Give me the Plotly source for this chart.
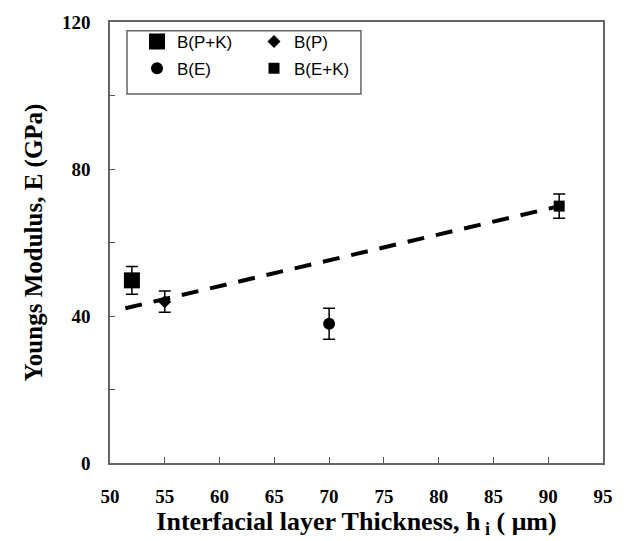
import plotly.graph_objects as go

# Data
series_names = ["B(P+K)", "B(P)", "B(E)", "B(E+K)"]
thickness = [52, 55, 70, 91]
modulus = [49.7, 43.9, 37.9, 69.9]
modulus_err = [3.8, 2.9, 4.2, 3.3]
symbols = ["square", "diamond", "circle", "square"]
sizes = [16, 10, 12, 11]
legend_ids = ["legend", "legend", "legend2", "legend2"]

trend_x = [51.4, 91.0]
trend_y = [42.1, 69.9]

x_ticks = list(range(50, 96, 5))
x_ticktext = ["<b>%d</b>" % v for v in x_ticks]
y_ticks = [0, 40, 80, 120]
y_ticktext = ["<b>%d</b>" % v for v in y_ticks]

fig = go.Figure()

fig.add_trace(go.Scatter(
    x=trend_x, y=trend_y, mode="lines",
    line=dict(color="black", width=4, dash="17px,12px"),
    showlegend=False, hoverinfo="skip"))

for name, xv, yv, ev, sym, sz, lg in zip(series_names, thickness, modulus, modulus_err, symbols, sizes, legend_ids):
    fig.add_trace(go.Scatter(
        x=[xv], y=[yv], mode="markers", name=name,
        marker=dict(symbol=sym, size=sz, color="black", line=dict(width=0)),
        error_y=dict(type="data", array=[ev], visible=True, color="black", thickness=1.5, width=6),
        legend=lg))

axis_font = dict(family="Liberation Serif", size=19, color="black", weight="bold")
legend_font = dict(family="Liberation Sans", size=17, color="black")

fig.update_layout(
    width=626, height=541,
    margin=dict(l=110, r=23, t=16, b=78),
    paper_bgcolor="white", plot_bgcolor="white",
    xaxis=dict(
        range=[50, 95], tickvals=x_ticks, ticktext=x_ticktext, ticks="inside", ticklen=6, tickwidth=1,
        tickcolor="#555", showgrid=False, zeroline=False,
        showline=True, linecolor="#666", linewidth=1.5, mirror=True,
        tickfont=axis_font, ticklabelstandoff=15,
        title=dict(text="<b>Interfacial layer Thickness, h<sub> i</sub> ( μm)</b>",
                   font=dict(family="Liberation Serif", size=26, color="black"), standoff=2),
    ),
    yaxis=dict(
        range=[0, 120], tickvals=y_ticks, ticktext=y_ticktext, ticks="inside", ticklen=5, tickwidth=1,
        tickcolor="#555", showgrid=False, zeroline=False,
        showline=True, linecolor="#666", linewidth=1.5, mirror=True,
        minor=dict(dtick=20, ticks="inside", ticklen=5, tickcolor="#555", tickwidth=1, showgrid=False),
        tickfont=axis_font, ticklabelstandoff=14,
        title=dict(text="<b>Youngs Modulus, E (GPa)</b>",
                   font=dict(family="Liberation Serif", size=25, color="black"), standoff=12),
    ),
    legend=dict(
        orientation="h", x=0.0548, y=0.955, xanchor="left", yanchor="middle",
        entrywidth=72, entrywidthmode="pixels", itemsizing="trace",
        font=legend_font, bgcolor="rgba(0,0,0,0)", borderwidth=0, traceorder="normal",
    ),
    legend2=dict(
        orientation="h", x=0.0548, y=0.894, xanchor="left", yanchor="middle",
        entrywidth=72, entrywidthmode="pixels", itemsizing="trace",
        font=legend_font, bgcolor="rgba(0,0,0,0)", borderwidth=0, traceorder="normal",
    ),
    shapes=[dict(type="rect", xref="paper", yref="paper",
                 x0=0.0345, x1=0.509, y0=0.837, y1=0.980,
                 line=dict(color="#666", width=1.5), fillcolor="rgba(0,0,0,0)")],
)

fig.write_html("out.html")
